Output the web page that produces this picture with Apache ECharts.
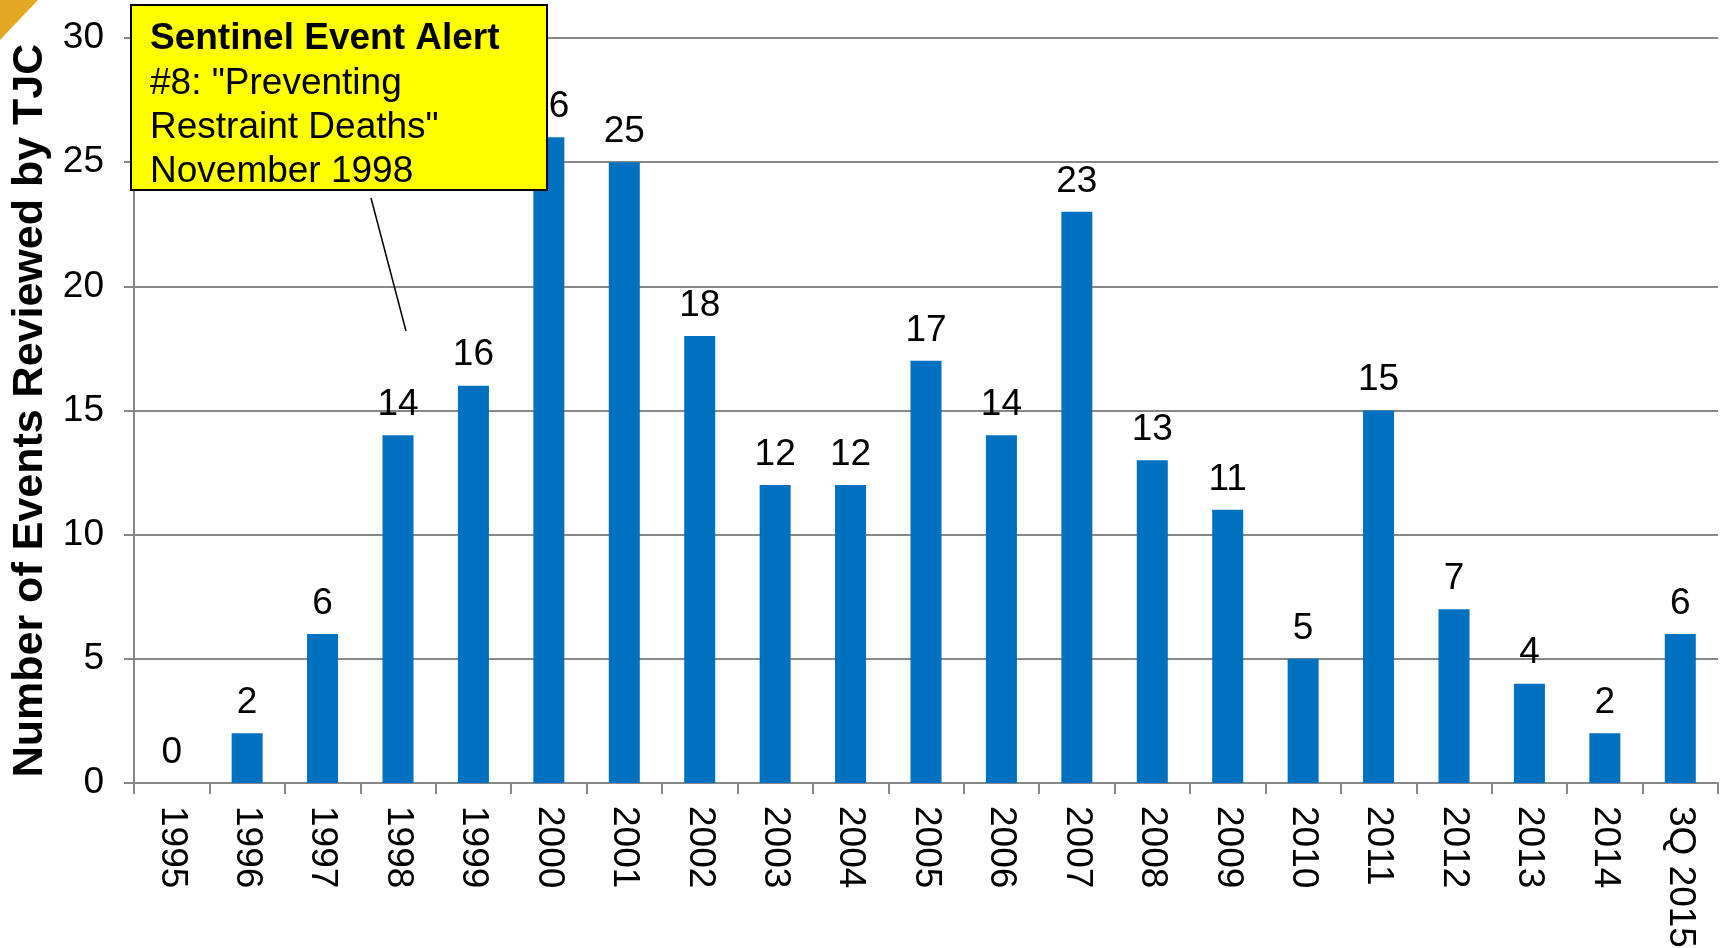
<!DOCTYPE html>
<html lang="en">
<head>
    <meta charset="UTF-8">
    <script src="https://cdn.jsdelivr.net/npm/echarts@6/dist/echarts.min.js"></script>
    <style>
        html, body { margin: 0; padding: 0; background: #fff; }
    </style>
</head>
<body>
<div style="width: 1721px;height: 948px" id="chart"></div>

<script>
    var years = ['1995', '1996', '1997', '1998', '1999', '2000', '2001', '2002', '2003', '2004', '2005',
                 '2006', '2007', '2008', '2009', '2010', '2011', '2012', '2013', '2014', '3Q 2015']
    var events = [0, 2, 6, 14, 16, 26, 25, 18, 12, 12, 17, 14, 23, 13, 11, 5, 15, 7, 4, 2, 6]
    var alertLines = ['Sentinel Event Alert', '#8: "Preventing', 'Restraint Deaths"', 'November 1998']

    var font = '"Liberation Sans", Arial, sans-serif'
    var myChart = echarts.init(document.getElementById('chart'))

    // yellow callout box, drawn above the bars
    var callout = [{
        type: 'rect',
        shape: { x: 131, y: 5, width: 416, height: 185 },
        style: { fill: '#ffff00', stroke: '#000', lineWidth: 2 },
        z: 100
    }]
    var lineY = [39, 84, 128, 172]
    alertLines.forEach(function (t, i) {
        callout.push({
            type: 'text',
            x: 150, y: lineY[i],
            style: {
                text: t,
                fill: '#000',
                font: (i == 0 ? 'bold ' : '') + '37px ' + font,
                verticalAlign: 'middle'
            },
            z: 101
        })
    })

    var option = {
        animation: false,
        grid: { left: 134, right: 3, top: 38, bottom: 165, outerBoundsMode: 'none' },
        xAxis: {
            type: 'category',
            data: years,
            axisLine: { lineStyle: { color: '#888', width: 2 } },
            axisTick: { show: true, length: 11, lineStyle: { color: '#888', width: 2 } },
            axisLabel: { rotate: -90, margin: 23, color: '#000', fontSize: 37, fontFamily: font }
        },
        yAxis: {
            type: 'value',
            min: 0, max: 30, interval: 5,
            name: 'Number of Events Reviewed by TJC',
            nameLocation: 'middle',
            nameGap: 80,
            nameTextStyle: { color: '#000', fontSize: 43, fontWeight: 'bold', fontFamily: font },
            axisLine: { show: true, lineStyle: { color: '#888', width: 2 } },
            axisTick: { show: true, length: 10, lineStyle: { color: '#888', width: 2 } },
            splitLine: { lineStyle: { color: '#888', width: 2 } },
            axisLabel: { margin: 30, color: '#000', fontSize: 37, fontFamily: font }
        },
        series: [{
            type: 'bar',
            data: events,
            barWidth: 31,
            itemStyle: { color: '#0070c0' },
            label: { show: true, position: 'top', distance: 12, color: '#000', fontSize: 37, fontFamily: font }
        }],
        graphic: [
            { type: 'polygon', shape: { points: [[0, 0], [38, 0], [0, 40]] }, style: { fill: '#e3a923' } },
            { type: 'line', shape: { x1: 371, y1: 198, x2: 406, y2: 331 }, style: { stroke: '#000', lineWidth: 1.5 }, z: 100 }
        ].concat(callout)
    }

    myChart.setOption(option)
</script>
</body>
</html>
